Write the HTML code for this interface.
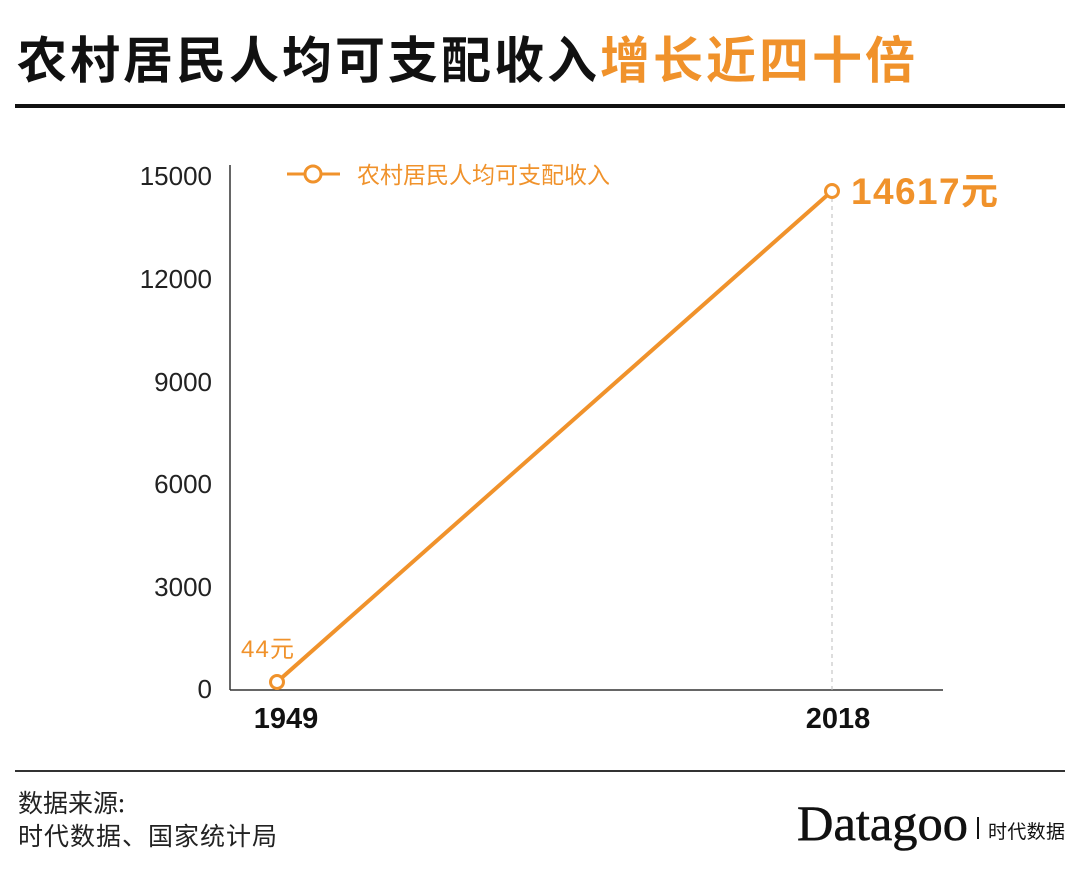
<!DOCTYPE html>
<html><head><meta charset="utf-8"><style>
html,body{margin:0;padding:0;background:#fff;}
svg{display:block;}
</style></head><body>
<svg width="1080" height="885" viewBox="0 0 1080 885" xmlns="http://www.w3.org/2000/svg" font-family="Liberation Sans, Noto Sans CJK SC, sans-serif">
<text x="17" y="78" font-size="50" font-weight="bold" textLength="898" lengthAdjust="spacing" font-family="Noto Sans CJK SC, sans-serif" fill="#111">农村居民人均可支配收入<tspan fill="#f0922b">增长近四十倍</tspan></text>
<rect x="15" y="104" width="1050" height="4" fill="#111"/>
<line x1="230" y1="165" x2="230" y2="690" stroke="#333" stroke-width="1.5"/>
<line x1="230" y1="690" x2="943" y2="690" stroke="#333" stroke-width="1.5"/>
<g font-size="26" fill="#222" text-anchor="end">
<text x="212" y="185">15000</text>
<text x="212" y="288">12000</text>
<text x="212" y="391">9000</text>
<text x="212" y="493">6000</text>
<text x="212" y="596">3000</text>
<text x="212" y="698">0</text>
</g>
<g font-size="29" font-weight="bold" fill="#111" text-anchor="middle">
<text x="286" y="728">1949</text>
<text x="838" y="728">2018</text>
</g>
<line x1="832" y1="198" x2="832" y2="690" stroke="#bbb" stroke-width="1" stroke-dasharray="4,4"/>
<line x1="277" y1="682" x2="832" y2="191" stroke="#f0922b" stroke-width="4"/>
<circle cx="277" cy="682" r="6.5" fill="#fff" stroke="#f0922b" stroke-width="3"/>
<circle cx="832" cy="191" r="6.5" fill="#fff" stroke="#f0922b" stroke-width="3"/>
<text x="241" y="657" font-size="24" fill="#f0922b" textLength="53">44元</text>
<text x="851" y="204" font-size="37" font-weight="bold" fill="#f0922b" textLength="147">14617元</text>
<line x1="287" y1="174" x2="340" y2="174" stroke="#f0922b" stroke-width="3"/>
<circle cx="313" cy="174" r="8" fill="#fff" stroke="#f0922b" stroke-width="3"/>
<text x="357" y="183" font-size="23" fill="#f0922b" textLength="253" font-family="Noto Sans CJK SC, sans-serif">农村居民人均可支配收入</text>
<rect x="15" y="770" width="1050" height="2" fill="#333"/>
<g font-size="25" fill="#222" font-family="Noto Sans CJK SC, sans-serif">
<text x="18" y="812">数据来源:</text>
<text x="18" y="845" textLength="259">时代数据、国家统计局</text>
</g>
<text x="797" y="840" font-size="50" font-family="Liberation Serif, serif" fill="#111" textLength="171" lengthAdjust="spacingAndGlyphs" stroke="#111" stroke-width="0.6">Datagoo</text>
<rect x="977" y="817" width="2" height="22" fill="#111"/>
<text x="988" y="838" font-size="19" fill="#111" textLength="77" font-family="Noto Sans CJK SC, sans-serif">时代数据</text>
</svg>
</body></html>
